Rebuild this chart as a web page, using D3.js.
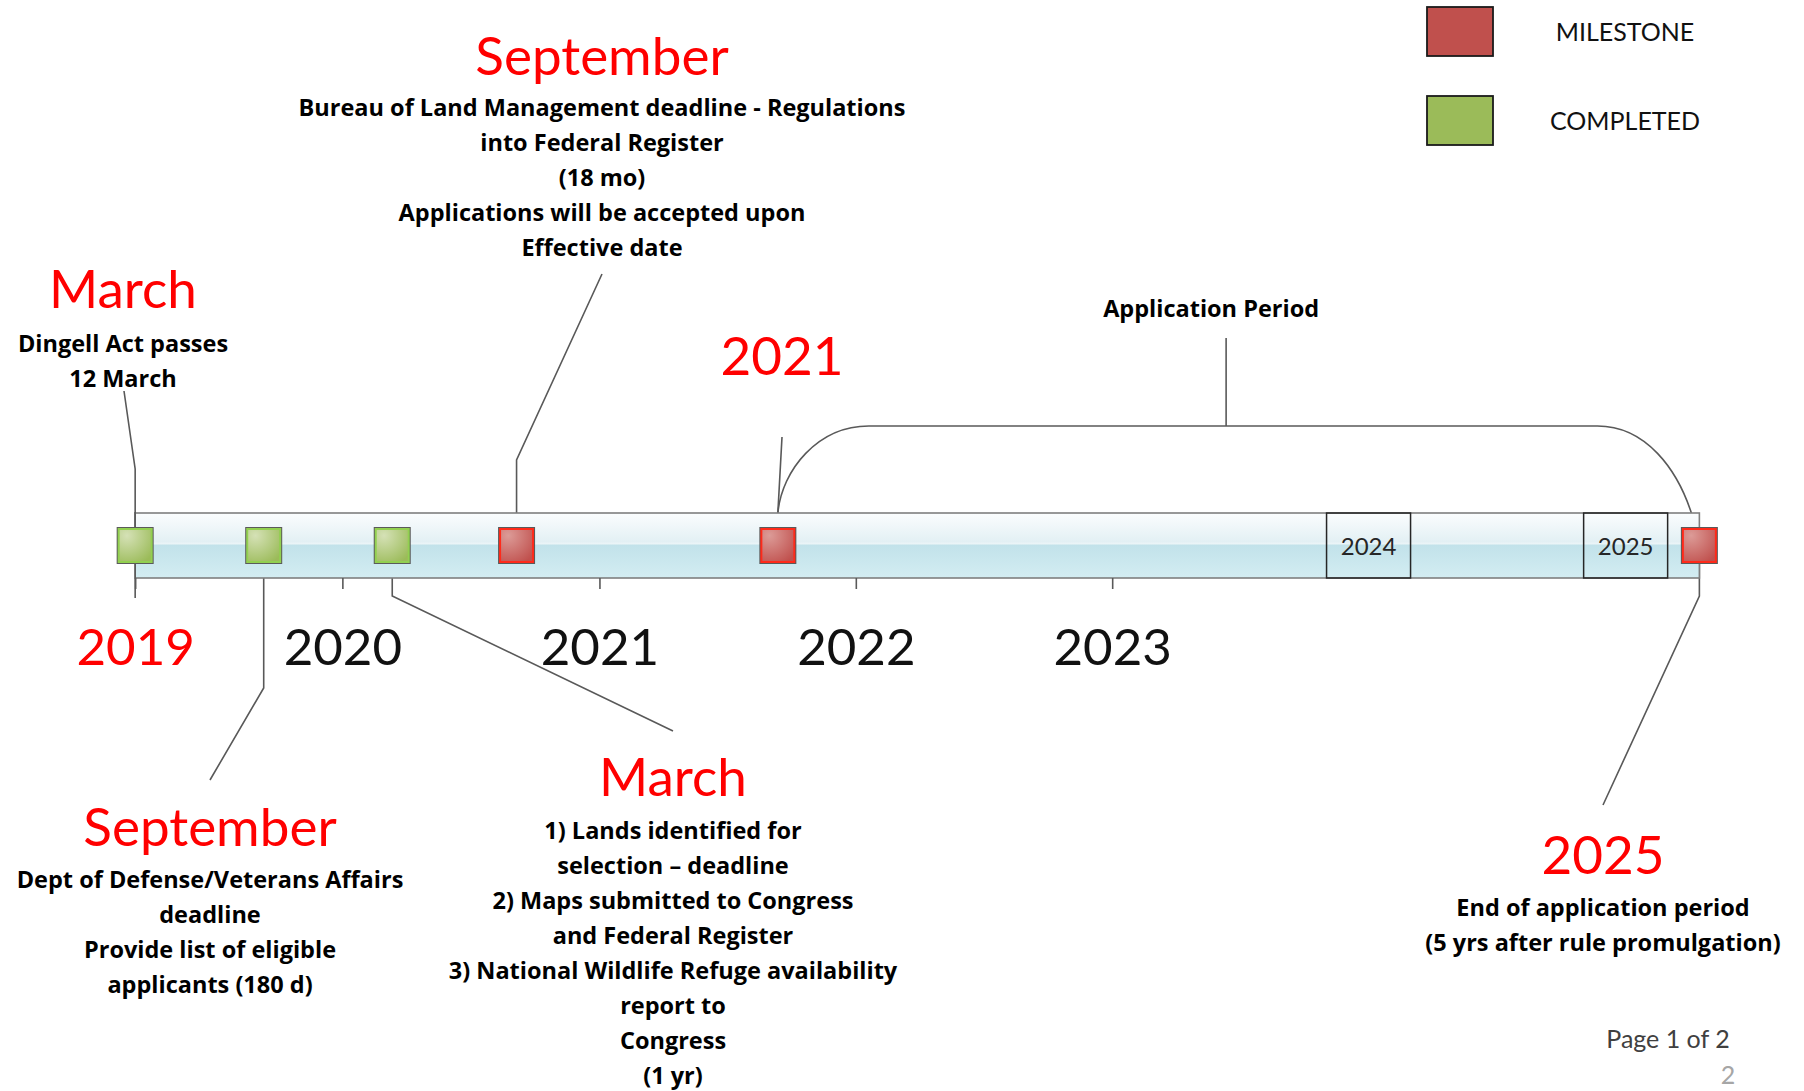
<!DOCTYPE html>
<html>
<head>
<meta charset="utf-8">
<script src="https://cdn.jsdelivr.net/npm/d3@7"></script>
<style>
  body { margin: 0; background: #fff; }
  svg { display: block; }
  text { font-family: Lato, "Open Sans", sans-serif; }
  text.note { font-family: "Open Sans", Lato, sans-serif; }
</style>
</head>
<body>
<svg></svg>
<script>
const width = 1804, height = 1091;

// timeline events
const eventDates  = ["2019-03-12", "2019-09-11", "2020-03-12", "2020-09-05", "2021-09-12", "2025-04-16"];
const eventTypes  = ["completed", "completed", "completed", "milestone", "milestone", "milestone"];
const eventTitles = ["March", "September", "March", "September", "2021", "2025"];
const eventNotes  = [
  ["Dingell Act passes", "12 March"],
  ["Dept of Defense/Veterans Affairs", "deadline", "Provide list of eligible", "applicants (180 d)"],
  ["1) Lands identified for", "selection \u2013 deadline", "2) Maps submitted to Congress", "and Federal Register",
   "3) National Wildlife Refuge availability", "report to", "Congress", "(1 yr)"],
  ["Bureau of Land Management deadline - Regulations", "into Federal Register", "(18 mo)",
   "Applications will be accepted upon", "Effective date"],
  [],
  ["End of application period", "(5 yrs after rule promulgation)"]
];

// axis
const axisTicks  = ["2019-03-12", "2020-01-01", "2021-01-01", "2022-01-01", "2023-01-01"];
const axisLabels = ["2019", "2020", "2021", "2022", "2023"];
const boxedYears = ["2024", "2025"];
const timelineSpan = ["2019-03-12", "2025-04-16"];
const applicationPeriod = ["2021-09-12", "2025-04-16"];

// legend
const legendKeys   = ["milestone", "completed"];
const legendLabels = ["MILESTONE", "COMPLETED"];

// label placement (pixels)
const layout = [
  { elbow: 469, end: [124, 391],  tx: 123,  ty: 308, ny: 352 },
  { elbow: 688, end: [210, 780],  tx: 210,  ty: 846, ny: 888 },
  { elbow: 596, end: [673, 731],  tx: 673,  ty: 796, ny: 839 },
  { elbow: 460, end: [602, 274],  tx: 602,  ty: 75,  ny: 116 },
  { elbow: 513, end: [782, 437],  tx: 782,  ty: 375, ny: 0 },
  { elbow: 596, end: [1603, 805], tx: 1603, ty: 874, ny: 916 }
];

const barTop = 513, barBottom = 578, barMid = (barTop + barBottom) / 2,
      sq = 34,                 // marker size
      lineGap = 35,            // note line spacing
      noteSize = 23.5,
      leaderColor = "#595959",
      red = "#ff0000";

const parse = d3.utcParse("%Y-%m-%d");

const x = d3.scaleUtc()
  .domain([new Date(Date.UTC(2019, 0, 1)), new Date(Date.UTC(2026, 0, 1))])
  .range([86, 1882]);

const svg = d3.select("svg")
  .attr("width", width)
  .attr("height", height);

const defs = svg.append("defs");

const bg = defs.append("linearGradient").attr("id", "bar").attr("x1", 0).attr("y1", 0).attr("x2", 0).attr("y2", 1);
[[0, "#fbfdfe"], [0.44, "#e3f0f4"], [0.47, "#eaf4f7"], [0.5, "#c2e2ea"], [1, "#d3edf2"]]
  .forEach(s => bg.append("stop").attr("offset", s[0]).attr("stop-color", s[1]));

const markerFill = { completed: ["#d5e1b6", "#9bbb59"], milestone: ["#dc9b97", "#c0504d"] },
      markerEdge = { completed: "#92d050", milestone: "#ff2a1a" };

Object.keys(markerFill).forEach(k => {
  const g = defs.append("radialGradient").attr("id", "m-" + k)
    .attr("cx", 0.25).attr("cy", 0.2).attr("r", 0.95);
  g.append("stop").attr("offset", 0).attr("stop-color", markerFill[k][0]);
  g.append("stop").attr("offset", 1).attr("stop-color", markerFill[k][1]);
});

// ---- bracket over the application period
const a0 = x(parse(applicationPeriod[0])), a1 = x(parse(applicationPeriod[1])) - 8,
      bracketY = 426;
const bp = d3.path();
bp.moveTo(a0, barTop);
bp.bezierCurveTo(a0 + 4, 470, a0 + 40, bracketY, a0 + 91, bracketY);
bp.lineTo(a1 - 94, bracketY);
bp.bezierCurveTo(a1 - 45, bracketY, a1 - 14, 470, a1, barTop);
svg.append("path")
  .attr("d", bp.toString())
  .attr("fill", "none")
  .attr("stroke", leaderColor)
  .attr("stroke-width", 1.6);

const amid = (a0 + 91 + a1 - 94) / 2 - 7;
svg.append("line")
  .attr("x1", amid).attr("x2", amid)
  .attr("y1", bracketY).attr("y2", 338)
  .attr("stroke", leaderColor).attr("stroke-width", 1.6);

svg.append("text")
  .attr("class", "note")
  .attr("x", amid - 15).attr("y", 317)
  .attr("text-anchor", "middle")
  .attr("font-size", noteSize).attr("font-weight", 700)
  .text("Application Period");

// ---- leader lines
const line = d3.line();
const events = eventDates.map((d, i) => ({
  date: parse(d), type: eventTypes[i], title: eventTitles[i], notes: eventNotes[i], pos: layout[i]
}));

svg.append("g").selectAll("path")
  .data(events)
  .join("path")
  .attr("fill", "none")
  .attr("stroke", leaderColor)
  .attr("stroke-width", 1.6)
  .attr("d", d => {
    const cx = x(d.date), up = d.pos.elbow < barMid;
    const y0 = up ? barMid - sq / 2 : barMid + sq / 2;
    return line([[cx, y0], [cx, d.pos.elbow], d.pos.end]);
  });

// ---- bar
const s0 = x(parse(timelineSpan[0])), s1 = x(parse(timelineSpan[1]));
svg.append("rect")
  .attr("x", s0).attr("y", barTop)
  .attr("width", s1 - s0).attr("height", barBottom - barTop)
  .attr("fill", "url(#bar)")
  .attr("stroke", "#7f7f7f")
  .attr("stroke-width", 1.6);

// first leader runs through the bar and down as the 2019 tick
svg.append("line")
  .attr("x1", x(parse(eventDates[0]))).attr("x2", x(parse(eventDates[0])))
  .attr("y1", barTop - 1).attr("y2", 598)
  .attr("stroke", leaderColor).attr("stroke-width", 1.6);

// boxed years inside the bar
const yearBox = svg.append("g").selectAll("g")
  .data(boxedYears)
  .join("g")
  .attr("transform", d => `translate(${x(new Date(Date.UTC(+d, 0, 1)))},0)`);

yearBox.append("rect")
  .attr("x", -42).attr("y", barTop)
  .attr("width", 84).attr("height", barBottom - barTop)
  .attr("fill", "none")
  .attr("stroke", "#262626")
  .attr("stroke-width", 1.5);

yearBox.append("text")
  .attr("y", 555)
  .attr("text-anchor", "middle")
  .attr("font-size", 24)
  .attr("fill", "#262626")
  .text(d => d);

// ---- axis below the bar
const axis = d3.axisBottom(x)
  .tickValues(axisTicks.map(parse))
  .tickSize(11)
  .tickFormat((d, i) => axisLabels[i]);

const ax = svg.append("g")
  .attr("transform", `translate(0,${barBottom})`)
  .call(axis);

ax.select(".domain").remove();
ax.selectAll(".tick line").attr("stroke", leaderColor).attr("stroke-width", 1.6);
ax.selectAll(".tick text")
  .attr("y", 87).attr("dy", 0)
  .attr("font-family", "Lato, 'Open Sans', sans-serif")
  .attr("font-size", 51)
  .attr("fill", (d, i) => i === 0 ? red : "#111");

// ---- markers
const mk = svg.append("g").selectAll("g")
  .data(events)
  .join("g")
  .attr("transform", d => `translate(${x(d.date)},${barMid})`);

mk.append("rect")
  .attr("x", -sq / 2 - 1.5).attr("y", -sq / 2 - 1.5)
  .attr("width", sq + 3).attr("height", sq + 3)
  .attr("fill", "#5a5a5a");

mk.append("rect")
  .attr("x", -sq / 2 + 0.5).attr("y", -sq / 2 + 0.5)
  .attr("width", sq - 1).attr("height", sq - 1)
  .attr("fill", d => `url(#m-${d.type})`)
  .attr("stroke", d => markerEdge[d.type])
  .attr("stroke-width", 2);

// ---- labels
const lab = svg.append("g").selectAll("g")
  .data(events)
  .join("g");

lab.append("text")
  .attr("x", d => d.pos.tx).attr("y", d => d.pos.ty)
  .attr("text-anchor", "middle")
  .attr("font-size", 53)
  .attr("fill", red)
  .text(d => d.title);

lab.each(function(d) {
  d3.select(this).selectAll("text.note")
    .data(d.notes)
    .join("text")
    .attr("class", "note")
    .attr("x", d.pos.tx)
    .attr("y", (t, j) => d.pos.ny + j * lineGap)
    .attr("text-anchor", "middle")
    .attr("font-size", noteSize)
    .attr("font-weight", 700)
    .attr("fill", "#000")
    .text(t => t);
});

// ---- legend
const leg = svg.append("g").selectAll("g")
  .data(legendKeys)
  .join("g")
  .attr("transform", (d, i) => `translate(1427,${7 + i * 89})`);

leg.append("rect")
  .attr("width", 66).attr("height", 49)
  .attr("fill", d => markerFill[d][1])
  .attr("stroke", "#1a1a1a")
  .attr("stroke-width", 1.8);

leg.append("text")
  .attr("x", 198).attr("y", 34)
  .attr("text-anchor", "middle")
  .attr("font-size", 25)
  .attr("fill", "#111")
  .text((d, i) => legendLabels[i]);

// ---- page footer
svg.append("text")
  .attr("x", 1668).attr("y", 1048)
  .attr("text-anchor", "middle")
  .attr("font-size", 25)
  .attr("fill", "#404040")
  .text("Page 1 of 2");

svg.append("text")
  .attr("x", 1728).attr("y", 1084)
  .attr("text-anchor", "middle")
  .attr("font-size", 25)
  .attr("fill", "#a6a6a6")
  .text("2");
</script>
</body>
</html>
